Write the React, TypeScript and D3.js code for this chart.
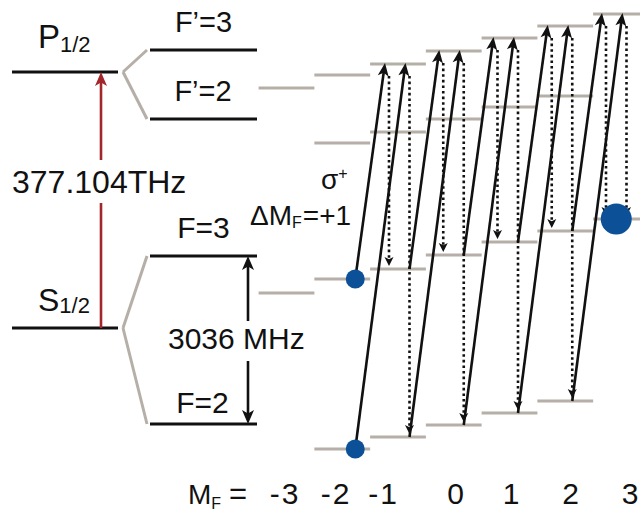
import React from "react";
import * as d3 from "d3";

// Magnetic sublevels
const mfValues = [-3, -2, -1, 0, 1, 2, 3];
// Relative energies (arbitrary units, higher = up)
const upperF3 = [412, 425, 436, 449, 462, 474, 486]; // F'=3, mF -3..3
const upperF2 = [357, 368, 381, 393, 404]; // F'=2, mF -2..2
const lowerF3 = [207, 221, 231, 245, 258, 269, 281]; // F=3, mF -3..3
const lowerF2 = [51, 63, 75, 87, 99]; // F=2, mF -2..2
// Fine / hyperfine levels on the left
const fineLevels = [
  { name: "P", e: 428 },
  { name: "S", e: 172 },
];
const hyperLevels = [
  { label: "F’=3", e: 450, parent: 428 },
  { label: "F’=2", e: 381, parent: 428 },
  { label: "F=3", e: 244, parent: 172 },
  { label: "F=2", e: 76, parent: 172 },
];
const opticalLabel = "377.104THz";
const hyperfineLabel = "3036 MHz";
const mfTickLabels = ["-3", "-2", "-1", "0", "1", "2", "3"];
// populations: [level, mF, size]
const populations: [string, number, string][] = [
  ["F3", -2, "small"],
  ["F2", -2, "small"],
  ["F3", 3, "big"],
];

const BLACK = "#111";
const GRAY = "#b5afa8";
const RED = "#a3262a";
const BLUE = "#0c5197";
const FONT = "'Liberation Sans', Arial, Helvetica, sans-serif";

function arrowHead(x0: number, y0: number, x1: number, y1: number, len: number, hw: number) {
  const dx = x1 - x0, dy = y1 - y0;
  const L = Math.hypot(dx, dy);
  const ux = dx / L, uy = dy / L;
  const bx = x1 - ux * len, by = y1 - uy * len;
  const px = -uy, py = ux;
  const pts = [
    [x1, y1],
    [bx + px * hw, by + py * hw],
    [bx + ux * len * 0.25, by + uy * len * 0.25],
    [bx - px * hw, by - py * hw],
  ];
  return { d: "M" + pts.map((p) => p.join(",")).join("L") + "Z", bx, by };
}

function Arrow({ x0, y0, x1, y1, dotted = false, color = BLACK, w = 2.4, len = 13, hw = 5.5 }: any) {
  const h = arrowHead(x0, y0, x1, y1, len, hw);
  return (
    <g>
      <line
        x1={x0}
        y1={y0}
        x2={h.bx + (x1 - h.bx) * 0.3}
        y2={h.by + (y1 - h.by) * 0.3}
        stroke={color}
        strokeWidth={w}
        strokeDasharray={dotted ? "2.6,3" : undefined}
      />
      <path d={h.d} fill={color} />
    </g>
  );
}

export default function App() {
  const W = 640, H = 512;
  const y = d3.scaleLinear().domain([0, 500]).range([500, 0]);
  const col = d3.scaleLinear().domain([-3, 3]).range([286.5, 621]);
  const halfCol = 27.9;
  const tipX = d3.scaleLinear().domain([-1, 3]).range([385, 602]);
  const tipGap = 20.5;
  const dotOff = 4;

  const idx7 = (m: number) => m + 3;
  const idx5 = (m: number) => m + 2;
  const eU3 = (m: number) => upperF3[idx7(m)];
  const eU2 = (m: number) => upperF2[idx5(m)];
  const eL3 = (m: number) => lowerF3[idx7(m)];
  const eL2 = (m: number) => lowerF2[idx5(m)];

  const levelLines: { m: number; e: number }[] = [];
  mfValues.forEach((m) => {
    levelLines.push({ m, e: eU3(m) });
    levelLines.push({ m, e: eL3(m) });
    if (Math.abs(m) <= 2) {
      levelLines.push({ m, e: eU2(m) });
      levelLines.push({ m, e: eL2(m) });
    }
  });

  const leftTip = (m: number) => tipX(m);
  const rightTip = (m: number) => tipX(m) + tipGap;

  const solids: any[] = [];
  for (let m = -2; m <= 2; m++) {
    const sx = rightTip(m) + dotOff;
    solids.push({ x0: sx, y0: y(eL3(m)), x1: leftTip(m + 1), y1: y(eU3(m + 1)) - 1 });
    solids.push({ x0: sx, y0: y(eL2(m)), x1: rightTip(m + 1), y1: y(eU3(m + 1)) - 1 });
  }
  const dots: any[] = [];
  for (let m = -1; m <= 3; m++) {
    const lx = leftTip(m) + dotOff;
    const rx = rightTip(m) + dotOff;
    dots.push({ x0: lx, y0: y(eU3(m)) + 12, x1: lx, y1: y(eL3(m)) - 3 });
    dots.push({ x0: rx, y0: y(eU3(m)) + 12, x1: rx, y1: m < 3 ? y(eL2(m)) - 3 : y(eL3(m)) - 3 });
  }

  const popCircles = populations.map(([lvl, m, size]) => {
    const e = lvl === "F3" ? eL3(m) : eL2(m);
    const cx = size === "big" ? (leftTip(m) + rightTip(m)) / 2 + dotOff : rightTip(m) + dotOff;
    return { cx, cy: y(e), r: size === "big" ? 15.5 : 9.5 };
  });

  // left diagram geometry
  const fineX0 = 12, fineX1 = 118;
  const hypX0 = 150, hypX1 = 257;
  const splitX0 = 123, splitX1 = 147;
  const redX = 101;
  const hfArrowX = 248;

  const labelXs = [285, 336, 383.5, 455.5, 511, 570.5, 630];

  return (
    <svg width={W} height={H} style={{ position: "absolute", left: 0, top: 0, background: "#fff" }} fontFamily={FONT}>
      <rect width={W} height={H} fill="#fff" />
      {/* fine levels */}
      {fineLevels.map((f) => (
        <line key={f.name} x1={fineX0} x2={fineX1} y1={y(f.e)} y2={y(f.e)} stroke={BLACK} strokeWidth={3} />
      ))}
      <text x={38} y={48} fontSize={33} fill={BLACK}>
        P<tspan fontSize={22} dy={4}>1/2</tspan>
      </text>
      <text x={38} y={311} fontSize={32} fill={BLACK}>
        S<tspan fontSize={22} dy={2}>1/2</tspan>
      </text>
      {/* splitting lines */}
      {hyperLevels.map((h) => (
        <line key={"s" + h.label} x1={splitX0} y1={y(h.parent)} x2={splitX1} y2={y(h.e)} stroke={GRAY} strokeWidth={3} />
      ))}
      {hyperLevels.map((h) => (
        <line key={"h" + h.label} x1={hypX0} x2={hypX1} y1={y(h.e)} y2={y(h.e)} stroke={BLACK} strokeWidth={3} />
      ))}
      <text x={203.5} y={32} fontSize={29} textAnchor="middle" fill={BLACK}>{hyperLevels[0].label}</text>
      <text x={203} y={101} fontSize={29} textAnchor="middle" fill={BLACK}>{hyperLevels[1].label}</text>
      <text x={203.5} y={238} fontSize={30} textAnchor="middle" fill={BLACK}>{hyperLevels[2].label}</text>
      <text x={202.5} y={413} fontSize={30} textAnchor="middle" fill={BLACK}>{hyperLevels[3].label}</text>

      {/* optical transition (red) */}
      <line x1={redX} x2={redX} y1={y(fineLevels[1].e)} y2={203} stroke={RED} strokeWidth={2.6} />
      <Arrow x0={redX} y0={160} x1={redX} y1={y(fineLevels[0].e)} color={RED} w={2.6} len={14} hw={6} />
      <text x={12} y={193} fontSize={32} fill={BLACK}>{opticalLabel}</text>

      {/* hyperfine splitting double arrow */}
      <Arrow x0={hfArrowX} y0={321} x1={hfArrowX} y1={y(hyperLevels[2].e)} w={2.6} len={14} hw={6} />
      <Arrow x0={hfArrowX} y0={361} x1={hfArrowX} y1={y(hyperLevels[3].e)} w={2.6} len={14} hw={6} />
      <text x={168} y={349} fontSize={30} fill={BLACK}>{hyperfineLabel}</text>

      {/* Zeeman sublevels */}
      {levelLines.map((l, i) => (
        <line
          key={"z" + i}
          x1={col(l.m) - halfCol}
          x2={col(l.m) + halfCol}
          y1={y(l.e)}
          y2={y(l.e)}
          stroke={GRAY}
          strokeWidth={3}
        />
      ))}

      {/* spontaneous decay (dotted) */}
      {dots.map((a, i) => (
        <Arrow key={"d" + i} {...a} dotted w={2.6} len={9} hw={4.5} />
      ))}
      {/* sigma+ pumping (solid) */}
      {solids.map((a, i) => (
        <Arrow key={"p" + i} {...a} w={2.6} len={13} hw={5.5} />
      ))}

      {popCircles.map((c, i) => (
        <circle key={"c" + i} cx={c.cx} cy={c.cy} r={c.r} fill={BLUE} />
      ))}

      {/* polarization labels */}
      <text x={321} y={189} fontSize={28} fill={BLACK}>
        σ<tspan fontSize={16} dy={-10}>+</tspan>
      </text>
      <text x={250} y={225} fontSize={28} fill={BLACK}>
        ΔM<tspan fontSize={16} dy={3}>F</tspan>
        <tspan dy={-3} dx={1}>=+1</tspan>
      </text>

      {/* mF axis labels */}
      <text x={188} y={504} fontSize={28} fill={BLACK}>
        M<tspan fontSize={16} dy={5}>F</tspan>
        <tspan dy={-5} dx={8} fontSize={31}>=</tspan>
      </text>
      {mfTickLabels.map((t, i) => (
        <text key={"t" + i} x={labelXs[i]} y={504} fontSize={30} letterSpacing={t.length > 1 ? 2 : 0} textAnchor="middle" fill={BLACK}>
          {t}
        </text>
      ))}
    </svg>
  );
}
